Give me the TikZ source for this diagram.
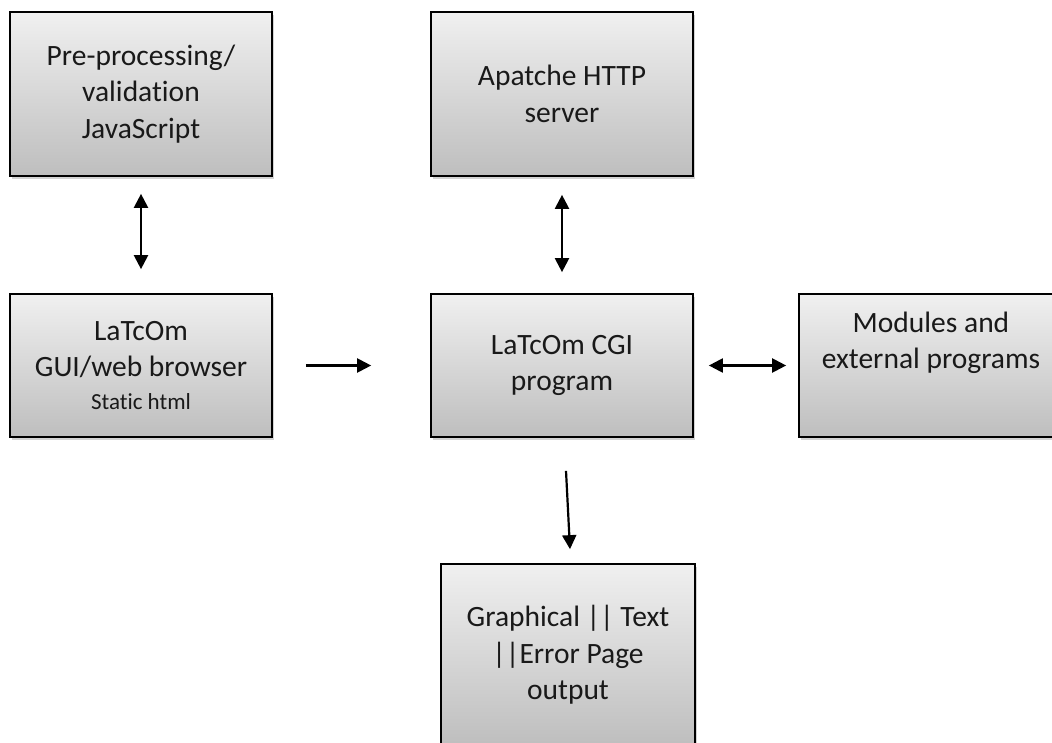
\documentclass[tikz,border=0pt]{standalone}
\usepackage{fontspec}
\setmainfont{Carlito}[Ligatures=NoCommon]
\usetikzlibrary{arrows.meta,shadows}
\definecolor{boxtop}{RGB}{240,240,240}
\definecolor{boxbot}{RGB}{190,190,190}
\definecolor{ink}{RGB}{25,25,25}
\begin{document}
\begin{tikzpicture}[x=1pt,y=-1pt,
  box/.style={rectangle, draw=black, line width=1.7pt, inner sep=0pt,
    top color=boxtop, bottom color=boxbot, text=ink,
    drop shadow={shadow xshift=1.5pt, shadow yshift=-3pt, opacity=0.35},
    align=center, font=\fontsize{29.5}{36.5}\selectfont},
  txt/.style={align=center, inner sep=0pt, text=ink, font=\fontsize{29.5}{36.5}\selectfont},
  tip/.style={Triangle[width=14pt,length=14pt]},
  one/.style={line width=2.2pt, -{Triangle[width=14pt,length=14pt]}},
  two/.style={line width=2.2pt, {Triangle[width=14pt,length=14pt]}-{Triangle[width=14pt,length=14pt]}}]
\useasboundingbox (0,0) rectangle (1052,743);
\clip (0,0) rectangle (1052,743);

% boxes
\node[box, minimum width=262pt, minimum height=164pt] (pre) at (141,94)
  {Pre-processing/\\validation\\JavaScript};
\node[box, minimum width=262pt, minimum height=164pt] (http) at (562,94)
  {Apatche HTTP\\server};
\node[box, minimum width=262pt, minimum height=143pt] (gui) at (141,365.5)
  {LaTcOm\\GUI/web browser\\[-4pt]{\fontsize{23}{27}\selectfont Static html}};
\node[box, minimum width=262pt, minimum height=143pt] (cgi) at (562,365.5)
  {LaTcOm CGI\\program};
\node[box, minimum width=262pt, minimum height=143pt] (mod) at (930,365.5) {};
\node[txt] (modtxt) at (931,343) {Modules and\\external programs};
\node[box, minimum width=254pt, minimum height=182pt] (out) at (568,655)
  {Graphical || Text\\||Error Page\\output};

% connectors
\draw[two, shorten <=17pt, shorten >=24pt] (pre) -- (gui);
\draw[two, shorten <=18pt, shorten >=21pt] (http) -- (cgi);
\draw[one, shorten <=33pt, shorten >=59pt] (gui) -- (cgi);
\draw[two, shorten <=15pt, shorten >=12pt] (cgi) -- (mod);
\draw[one] ([shift={(4,33)}]cgi.south) -- ([shift={(2,-14)}]out.north);
\end{tikzpicture}
\end{document}
